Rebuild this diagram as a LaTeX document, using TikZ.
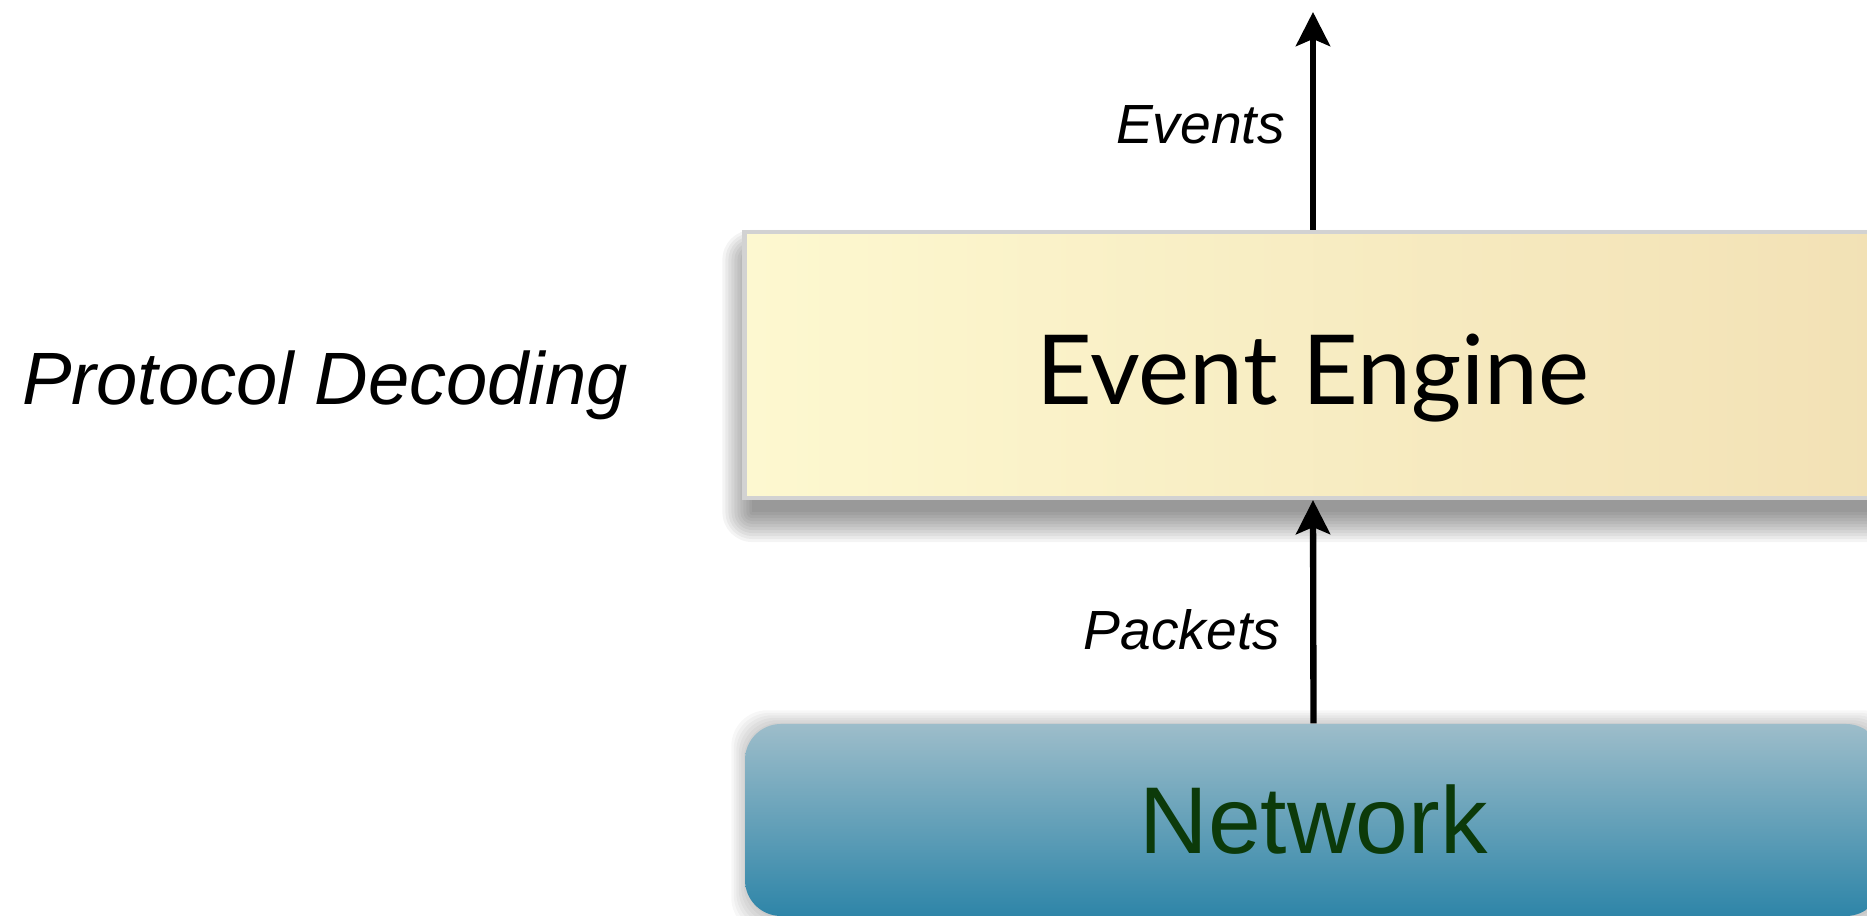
\documentclass[tikz,border=0pt]{standalone}
\usepackage{fontspec}
\setmainfont{Liberation Sans}
\newfontfamily\enginefont{Lato}
\usetikzlibrary{arrows.meta,calc,backgrounds}

\definecolor{eeleft}{HTML}{FDF8D0}
\definecolor{eeright}{HTML}{F2E1B5}
\definecolor{eeborder}{HTML}{D2D2D2}
\definecolor{nettop}{HTML}{9DBDCA}
\definecolor{netbottom}{HTML}{2E85A8}
\definecolor{nettext}{HTML}{0C3A0A}

\tikzset{
  layerbox/.style={minimum width=11.37cm, inner sep=0pt},
  enginebox/.style={layerbox, minimum height=2.66cm, draw=eeborder, line width=1.2pt,
    left color=eeleft, right color=eeright,
    font=\enginefont\fontsize{27.5}{30}\selectfont},
  netbox/.style={layerbox, minimum height=1.92cm, rounded corners=0.36cm,
    top color=nettop, bottom color=netbottom,
    text=nettext, font=\fontsize{27}{30}\selectfont},
  flow/.style={line width=1.8pt, -{Stealth[length=0.34cm, width=0.34cm, inset=0.07cm]}},
  flowlabel/.style={font=\itshape\fontsize{15.7}{18}\selectfont, inner sep=0pt},
  sidelabel/.style={font=\itshape\fontsize{21.1}{24}\selectfont, inner sep=0pt},
  shadowlayer/.style={fill=black, opacity=#1}
}

\begin{document}
\begin{tikzpicture}
  \useasboundingbox (0,0) rectangle (18.67,9.16);
  \clip (0,0) rectangle (18.67,9.16);

  % the two layers
  \node[enginebox] (engine) at (13.13,5.51) {\raisebox{-0.13cm}[\height][\depth]{Event Engine}};
  \node[netbox] (network) at (13.135,0.96) {Network};

  % soft drop shadows, built from stacked translucent outlines
  \begin{pgfonlayer}{background}
    \fill[white] (0,0) rectangle (18.67,9.16);
    \foreach \r in {0.00,0.03,...,0.30} {
      \fill[shadowlayer=0.045, rounded corners=\r cm]
        ($(engine.south west)+(0.1-\r,-0.12-\r)$) rectangle ($(engine.north east)+(\r,-0.3+\r)$);
    }
    \foreach \r in {0.00,0.025,...,0.15} {
      \fill[shadowlayer=0.03, rounded corners=0.36cm]
        ($(network.south west)+(0.02-\r,-0.02-\r)$) rectangle ($(network.north east)+(\r,\r-0.02)$);
    }
  \end{pgfonlayer}

  % side label
  \node[sidelabel] (decoding) at (3.25,5.31) {Protocol Decoding};

  % data flow between the layers
  \coordinate (out) at (13.13,9.04);
  \draw[flow] (network.north) -- node[flowlabel, pos=0.42, left=0.3cm] (packets) {Packets} (engine.south);
  \draw[flow] (engine.north) -- node[flowlabel, pos=0.48, left=0.25cm] (events) {Events} (out);
\end{tikzpicture}
\end{document}
